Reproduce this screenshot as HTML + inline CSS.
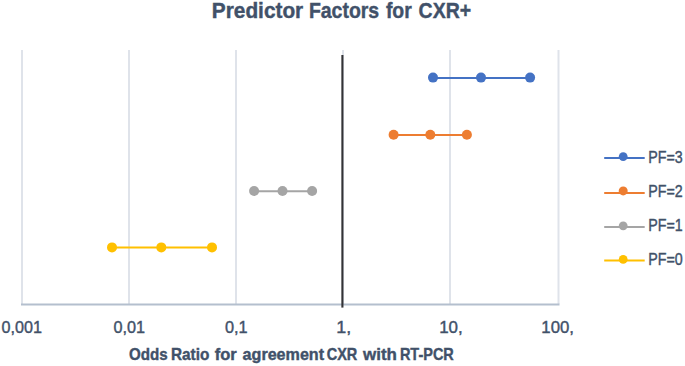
<!DOCTYPE html>
<html>
<head>
<meta charset="utf-8">
<style>
html,body{margin:0;padding:0;background:#fff;}
body{width:685px;height:366px;overflow:hidden;}
svg{display:block;}
text{font-family:"Liberation Sans",sans-serif;fill:#415169;stroke:#415169;stroke-width:0.4px;}
</style>
</head>
<body>
<svg width="685" height="366" viewBox="0 0 685 366">
  <rect x="0" y="0" width="685" height="366" fill="#fff"/>
  <g>
  <!-- title -->
  <g font-size="21.2" font-weight="bold" style="stroke-width:0.6px">
    <text x="211.82" y="18.1" textLength="91.41" lengthAdjust="spacingAndGlyphs">Predictor</text>
    <text x="308.88" y="18.1" textLength="70.32" lengthAdjust="spacingAndGlyphs">Factors</text>
    <text x="385.9" y="18.1" textLength="25.93" lengthAdjust="spacingAndGlyphs">for</text>
    <text x="418.58" y="18.1" textLength="52.52" lengthAdjust="spacingAndGlyphs">CXR+</text>
  </g>

  <!-- gridlines -->
  <g stroke="#DFE3EA" stroke-width="2">
    <line x1="22" y1="50" x2="22" y2="304"/>
    <line x1="129" y1="50" x2="129" y2="304"/>
    <line x1="236" y1="50" x2="236" y2="304"/>
    <line x1="343" y1="50" x2="343" y2="304"/>
    <line x1="450" y1="50" x2="450" y2="304"/>
    <line x1="558.5" y1="50" x2="558.5" y2="304"/>
  </g>
  <!-- x axis -->
  <line x1="21" y1="304.5" x2="559.5" y2="304.5" stroke="#B4BFCE" stroke-width="2"/>
  <!-- reference line at 1 -->
  <line x1="342.4" y1="55" x2="342.4" y2="307.6" stroke="#333336" stroke-width="2.1"/>

  <!-- series -->
  <g stroke-width="2">
    <line x1="433" y1="77.9" x2="530" y2="77.9" stroke="#4472C4"/>
    <line x1="393.6" y1="135" x2="467" y2="135" stroke="#ED7D31"/>
    <line x1="254.1" y1="191.2" x2="312.1" y2="191.2" stroke="#A5A5A5"/>
    <line x1="112" y1="247.6" x2="212" y2="247.6" stroke="#FFC000"/>
  </g>
  <g>
    <circle cx="433" cy="77.6" r="5" fill="#4472C4"/>
    <circle cx="481" cy="77.6" r="5" fill="#4472C4"/>
    <circle cx="530.1" cy="77.6" r="5" fill="#4472C4"/>
    <circle cx="393.6" cy="134.8" r="5" fill="#ED7D31"/>
    <circle cx="430.3" cy="134.8" r="5" fill="#ED7D31"/>
    <circle cx="466.9" cy="134.8" r="5" fill="#ED7D31"/>
    <circle cx="254.1" cy="191" r="5" fill="#A5A5A5"/>
    <circle cx="282.5" cy="191" r="5" fill="#A5A5A5"/>
    <circle cx="312.1" cy="191" r="5" fill="#A5A5A5"/>
    <circle cx="112" cy="247.4" r="5" fill="#FFC000"/>
    <circle cx="161.3" cy="247.4" r="5" fill="#FFC000"/>
    <circle cx="212" cy="247.4" r="5" fill="#FFC000"/>
  </g>

  <!-- axis labels -->
  <g font-size="16.8">
    <text x="1.5" y="332.6" textLength="40.5" lengthAdjust="spacingAndGlyphs">0,001</text>
    <text x="113.4" y="332.6" textLength="31.65" lengthAdjust="spacingAndGlyphs">0,01</text>
    <text x="224.9" y="332.6" textLength="22.73" lengthAdjust="spacingAndGlyphs">0,1</text>
    <text x="336.33" y="332.6" textLength="14.93" lengthAdjust="spacingAndGlyphs">1,</text>
    <text x="439.19" y="332.6" textLength="23.57" lengthAdjust="spacingAndGlyphs">10,</text>
    <text x="541.3" y="332.6" textLength="32.67" lengthAdjust="spacingAndGlyphs">100,</text>
  </g>

  <!-- axis title -->
  <g font-size="16.3" font-weight="bold">
    <text x="128.97" y="360.3" textLength="38.61" lengthAdjust="spacingAndGlyphs">Odds</text>
    <text x="170.96" y="360.3" textLength="38.41" lengthAdjust="spacingAndGlyphs">Ratio</text>
    <text x="214.8" y="360.3" textLength="22" lengthAdjust="spacingAndGlyphs">for</text>
    <text x="242.6" y="360.3" textLength="81.46" lengthAdjust="spacingAndGlyphs">agreement</text>
    <text x="326.71" y="360.3" textLength="30.64" lengthAdjust="spacingAndGlyphs">CXR</text>
    <text x="363.1" y="360.3" textLength="33.89" lengthAdjust="spacingAndGlyphs">with</text>
    <text x="399.91" y="360.3" textLength="53.93" lengthAdjust="spacingAndGlyphs">RT-PCR</text>
  </g>

  <!-- legend -->
  <g stroke-width="2">
    <line x1="604.2" y1="158" x2="644.7" y2="158" stroke="#4472C4"/>
    <line x1="604.2" y1="193" x2="644.7" y2="193" stroke="#ED7D31"/>
    <line x1="604.2" y1="226.9" x2="644.7" y2="226.9" stroke="#A5A5A5"/>
    <line x1="604.2" y1="260.5" x2="644.7" y2="260.5" stroke="#FFC000"/>
  </g>
  <circle cx="623.2" cy="156.6" r="4.4" fill="#4472C4"/>
  <circle cx="623.2" cy="190.9" r="4.5" fill="#ED7D31"/>
  <circle cx="623.2" cy="225.8" r="4.4" fill="#A5A5A5"/>
  <circle cx="623.2" cy="259.4" r="4.4" fill="#FFC000"/>
  <g font-size="16.5">
    <text x="648.34" y="162.9" textLength="34.48" lengthAdjust="spacingAndGlyphs">PF=3</text>
    <text x="648.34" y="196.7" textLength="34.48" lengthAdjust="spacingAndGlyphs">PF=2</text>
    <text x="648.34" y="230.8" textLength="34.48" lengthAdjust="spacingAndGlyphs">PF=1</text>
    <text x="648.34" y="264.9" textLength="34.48" lengthAdjust="spacingAndGlyphs">PF=0</text>
  </g>
</g>
</svg>
</body>
</html>
